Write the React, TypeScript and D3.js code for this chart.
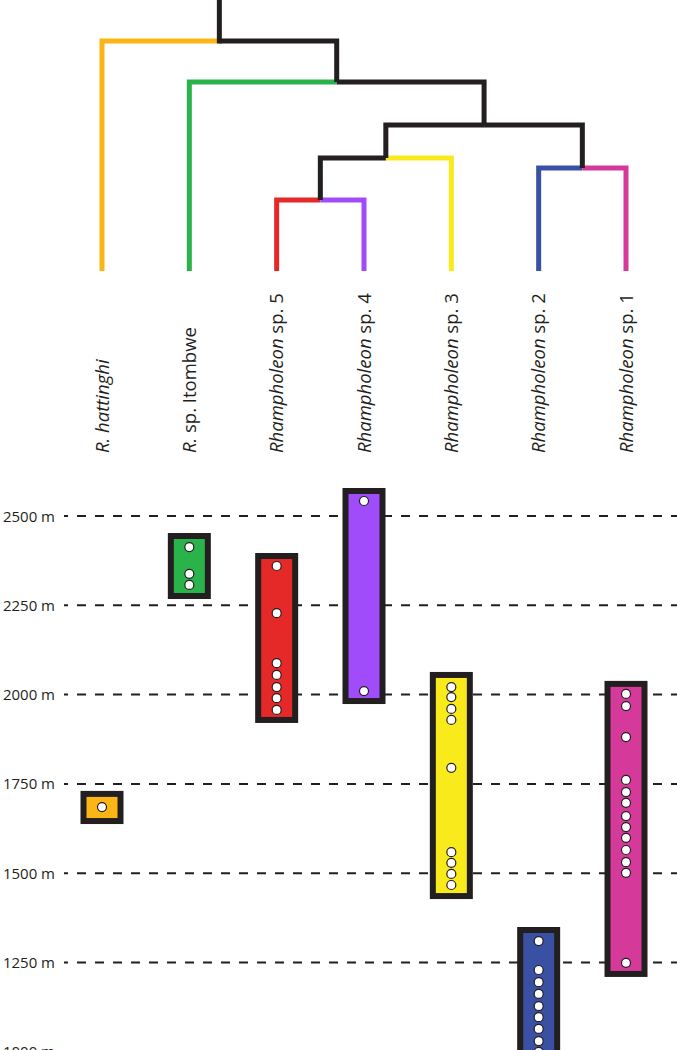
import React, { useEffect, useRef } from "react";
import * as d3 from "d3";

// species, left to right
const species = [
  "R. hattinghi",
  "R. sp. Itombwe",
  "Rhampholeon sp. 5",
  "Rhampholeon sp. 4",
  "Rhampholeon sp. 3",
  "Rhampholeon sp. 2",
  "Rhampholeon sp. 1",
];
const labelItalic = ["R. hattinghi", "R.", "Rhampholeon", "Rhampholeon", "Rhampholeon", "Rhampholeon", "Rhampholeon"];
const labelPlain = ["", " sp. Itombwe", " sp. 5", " sp. 4", " sp. 3", " sp. 2", " sp. 1"];
const speciesColors = ["#fbb616", "#2bb34b", "#e52828", "#a04cfb", "#f9ea1c", "#3a50a2", "#d5399a"];

// elevation range of each species (m)
const rangeMin = [1646, 2276, 1929, 1982, 1436, 940, 1218];
const rangeMax = [1722, 2444, 2388, 2570, 2055, 1341, 2030];

// individual records (m)
const records = [
  [1685],
  [2413, 2338, 2307],
  [2360, 2228, 2088, 2055, 2021, 1990, 1957],
  [2542, 2010],
  [2021, 1993, 1960, 1929, 1795, 1559, 1529, 1498, 1467],
  [1310, 1229, 1195, 1162, 1128, 1097, 1064, 1030, 1000, 968],
  [2002, 1968, 1881, 1761, 1727, 1697, 1660, 1629, 1599, 1565, 1531, 1501, 1249],
];

const elevTicks = [2500, 2250, 2000, 1750, 1500, 1250, 1000];

// phylogeny: node heights in relative time units (tips at 0, root stem at 10)
interface TreeNode {
  h?: number;
  leaf?: number;
  children?: TreeNode[];
}
const rootHeight = 10;
const tree: TreeNode = {
  h: 8.49,
  children: [
    { leaf: 0 },
    {
      h: 6.97,
      children: [
        { leaf: 1 },
        {
          h: 5.39,
          children: [
            {
              h: 4.17,
              children: [
                { h: 2.62, children: [{ leaf: 2 }, { leaf: 3 }] },
                { leaf: 4 },
              ],
            },
            { h: 3.8, children: [{ leaf: 5 }, { leaf: 6 }] },
          ],
        },
      ],
    },
  ],
};

const W = 677;
const H = 1050;
const ink = "#231f20";

const App = () => {
  const svgRef = useRef<SVGSVGElement | null>(null);

  useEffect(() => {
    if (!svgRef.current) return;
    const svg = d3.select(svgRef.current);
    svg.selectAll("*").remove();

    const x = d3.scalePoint<string>().domain(species).range([102, 626]);
    const yTree = d3.scaleLinear().domain([rootHeight, 0]).range([0, 271]);
    const yElev = d3.scaleLinear().domain([1250, 2500]).range([962.5, 516]);

    // tree layout: tips at species x, parent at midpoint of children
    const root = d3.hierarchy<TreeNode>(tree, (d) => d.children);
    const px = new Map<any, number>();
    root.eachAfter((n) => {
      if (n.data.leaf !== undefined) px.set(n, x(species[n.data.leaf]) as number);
      else {
        const xs = (n.children || []).map((c) => px.get(c) as number);
        px.set(n, (d3.min(xs)! + d3.max(xs)!) / 2);
      }
    });
    const nodeY = (n: any) => yTree(n.data.leaf !== undefined ? 0 : n.data.h);

    const treeG = svg.append("g");
    const branches = root.links().map((l) => ({
      sx: px.get(l.source) as number,
      sy: nodeY(l.source),
      tx: px.get(l.target) as number,
      ty: nodeY(l.target),
      color: l.target.data.leaf !== undefined ? speciesColors[l.target.data.leaf] : ink,
    }));
    // coloured tip branches first, black internal ones on top
    branches.sort((a, b) => (a.color === ink ? 1 : 0) - (b.color === ink ? 1 : 0));
    treeG
      .selectAll("path.branch")
      .data(branches)
      .enter()
      .append("path")
      .attr("class", "branch")
      .attr("d", (d) => `M${d.sx},${d.sy}H${d.tx}V${d.ty}`)
      .attr("fill", "none")
      .attr("stroke", (d) => d.color)
      .attr("stroke-width", 5)
      .attr("stroke-linejoin", "miter");
    // root stem
    treeG
      .append("path")
      .attr("d", `M${px.get(root)},${yTree(rootHeight)}V${nodeY(root)}`)
      .attr("stroke", ink)
      .attr("stroke-width", 5)
      .attr("stroke-linecap", "square");

    // species labels
    const labels = svg
      .append("g")
      .selectAll("text")
      .data(species)
      .enter()
      .append("text")
      .attr("transform", (d) => `translate(${x(d)},453) rotate(-90)`)
      .attr("dy", "0.36em")
      .attr("text-anchor", "start")
      .style("font-family", "'Open Sans', sans-serif")
      .style("font-size", "18.5px")
      .attr("fill", ink);
    labels
      .append("tspan")
      .style("font-style", "italic")
      .text((d, i) => labelItalic[i]);
    labels.append("tspan").text((d, i) => labelPlain[i]);

    // elevation grid
    const grid = svg.append("g");
    grid
      .selectAll("line")
      .data(elevTicks)
      .enter()
      .append("line")
      .attr("x1", 64)
      .attr("x2", W)
      .attr("y1", (d) => yElev(d))
      .attr("y2", (d) => yElev(d))
      .attr("stroke", ink)
      .attr("stroke-width", 2)
      .attr("stroke-dasharray", "9,9")
      .attr("stroke-dashoffset", 5);
    grid
      .selectAll("text")
      .data(elevTicks)
      .enter()
      .append("text")
      .attr("x", 55)
      .attr("y", (d) => yElev(d) + 5.5)
      .attr("text-anchor", "end")
      .style("font-family", "'Open Sans', sans-serif")
      .style("font-size", "15px")
      .attr("fill", ink)
      .text((d) => `${d} m`);

    // range boxes
    const boxW = 37;
    const boxes = svg.append("g");
    boxes
      .selectAll("rect")
      .data(species)
      .enter()
      .append("rect")
      .attr("x", (d) => (x(d) as number) - boxW / 2)
      .attr("y", (d, i) => yElev(rangeMax[i]))
      .attr("width", boxW)
      .attr("height", (d, i) => yElev(rangeMin[i]) - yElev(rangeMax[i]))
      .attr("fill", (d, i) => speciesColors[i])
      .attr("stroke", ink)
      .attr("stroke-width", 6);

    // records
    const pts = species.flatMap((s, i) => records[i].map((e) => ({ s, e })));
    svg
      .append("g")
      .selectAll("circle")
      .data(pts)
      .enter()
      .append("circle")
      .attr("cx", (d) => x(d.s) as number)
      .attr("cy", (d) => yElev(d.e))
      .attr("r", 4.5)
      .attr("fill", "#fff")
      .attr("stroke", ink)
      .attr("stroke-width", 1.2);
  }, []);

  return (
    <svg
      ref={svgRef}
      width={W}
      height={H}
      style={{ position: "absolute", left: 0, top: 0, background: "#fff" }}
    ></svg>
  );
};

export default App;
